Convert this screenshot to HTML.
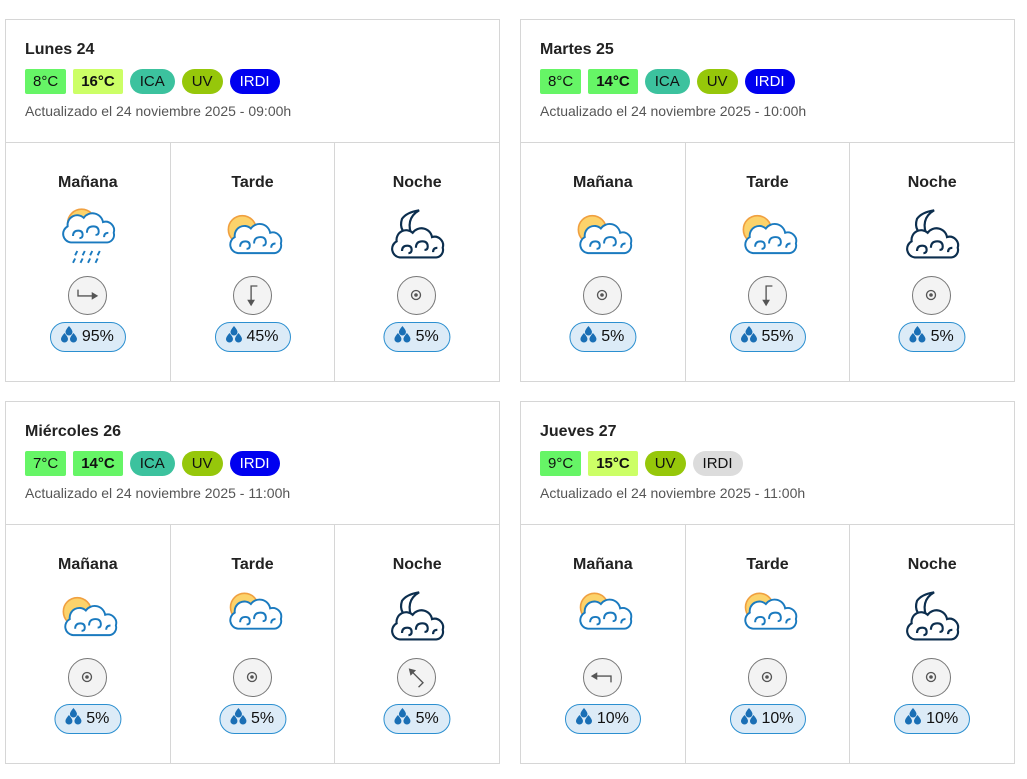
<!DOCTYPE html>
<html><head><meta charset="utf-8"><style>
*{box-sizing:border-box;margin:0;padding:0}
body{width:1027px;height:779px;background:#fff;font-family:"Liberation Sans","DejaVu Sans",sans-serif;color:#222;position:relative;overflow:hidden}
.card{position:absolute;width:495px;height:363px;border:1px solid #d6d6d6;background:#fff}
.head{height:123px;border-bottom:1px solid #d6d6d6;padding:20px 0 0 19px}
.title{font-size:16px;font-weight:bold;height:20px;line-height:20px;color:#222}
.badges{margin-top:9px;height:25px;display:flex;gap:7px}
.b{height:25px;line-height:25px;font-size:15px;padding:0 8px;color:#111}
.t{border-radius:2px}
.p{border-radius:13px;padding:0 10px}
.upd{margin-top:9px;font-size:14px;color:#555}
.cols{display:flex;height:238px}
.col{flex:1;border-right:1px solid #d6d6d6;position:relative;text-align:center}
.col:last-child{border-right:none}
.name{position:absolute;top:31px;left:0;right:0;font-size:16px;font-weight:bold}
.ic{position:absolute;top:63px;left:50%;margin-left:-30px;width:60px;height:60px}
.w{position:absolute;top:133px;left:50%;margin-left:-20px;width:39px;height:39px;border:1.5px solid #777;border-radius:50%;background:#f3f3f3}
.w svg{position:absolute;left:0;top:0}
.pr{position:absolute;top:179px;left:50%;transform:translateX(-50%);height:30px;line-height:28px;border:1.5px solid #2b8fd0;background:#dcebf7;border-radius:15px;padding:0 11px 0 10px;font-size:16px;white-space:nowrap;color:#111}
.pr svg{vertical-align:-2px;margin-right:5px}
</style></head><body>
<svg width="0" height="0" style="position:absolute">
<defs>
<g id="cloud" fill="#fff" stroke="#1a7abf" stroke-width="1.8">
<path d="M10 36 A8 8 0 0 1 7 21 A9 9 0 0 1 22 13 A10 10 0 0 1 40 17 A8 8 0 0 1 50 27 A7 7 0 0 1 44 36 Z"/>
<path d="M12 30 q0 -5 5 -5 q4 0 4 4 q0 3 -3 3" fill="none"/><path d="M25 27 q0 -6 6 -6 q5 0 5 5 q0 3 -3 3" fill="none"/><path d="M41 31 q0 -4 4 -4" fill="none"/>
</g>
<g id="sun"><circle cx="18" cy="16" r="13" fill="#fcd36b" stroke="#f0a040" stroke-width="1.5"/></g>
<g id="moon"><path d="M24 2 q-14 8 -6 26 q-14 -6 -10 -18 q4 -6 16 -8z" fill="#fff" stroke="#0c2e4e" stroke-width="2"/></g>
<g id="ncloud" fill="#fff" stroke="#0c2e4e" stroke-width="2">
<path d="M10 50 A8 8 0 0 1 7 35 A9 9 0 0 1 22 27 A10 10 0 0 1 40 31 A8 8 0 0 1 50 41 A7 7 0 0 1 44 50 Z"/>
<path d="M12 44 q0 -5 5 -5 q4 0 4 4 q0 3 -3 3" fill="none"/><path d="M25 41 q0 -6 6 -6 q5 0 5 5 q0 3 -3 3" fill="none"/><path d="M41 45 q0 -4 4 -4" fill="none"/>
</g>
<g id="rain" stroke="#1a7abf" stroke-width="1.8"><path d="M14 42l-2 4M21 42l-2 4M28 42l-2 4M35 42l-2 4M12 49l-2 4M19 49l-2 4M26 49l-2 4M33 49l-2 4"/></g>
<g id="drops" fill="#1a6fb5"><path d="M8 0 q3.5 4 3.5 6 a3.5 3.5 0 0 1 -7 0 q0 -2 3.5 -6z"/><path d="M3.5 7 q3.5 4 3.5 6 a3.5 3.5 0 0 1 -7 0 q0 -2 3.5 -6z"/><path d="M12.5 7 q3.5 4 3.5 6 a3.5 3.5 0 0 1 -7 0 q0 -2 3.5 -6z"/></g>
<g id="dot"><circle cx="20" cy="20" r="5" fill="none" stroke="#555" stroke-width="1.5"/><circle cx="20" cy="20" r="2" fill="#555"/></g>
<g id="arr" stroke="#555" stroke-width="1.5" fill="none"><path d="M10 14v7h16"/><path d="M26 18l5 3l-5 3z" fill="#555"/></g>
</defs></svg>

<!-- Card 1 -->
<div class="card" style="left:5px;top:19px">
<div class="head"><div class="title">Lunes 24</div>
<div class="badges"><span class="b t" style="background:#66f566">8°C</span><span class="b t" style="background:#ccff66;font-weight:bold">16°C</span><span class="b p" style="background:#3cc29e">ICA</span><span class="b p" style="background:#96c70a">UV</span><span class="b p" style="background:#0000f0;color:#fff">IRDI</span></div>
<div class="upd">Actualizado el 24 noviembre 2025 - 09:00h</div></div>
<div class="cols">
<div class="col"><div class="name">Mañana</div><svg class="ic" viewBox="0 0 56 56"><use href="#sun" x="4" y="0"/><use href="#cloud" x="2" y="-2"/><use href="#rain" x="4" y="0"/></svg><div class="w"><svg width="36" height="36" viewBox="0 0 40 40"><use href="#arr"/></svg></div><div class="pr"><svg width="16" height="17" viewBox="0 0 16 17"><use href="#drops"/></svg>95%</div></div>
<div class="col"><div class="name">Tarde</div><svg class="ic" viewBox="0 0 56 56"><use href="#sun" x="0" y="6"/><use href="#cloud" x="4" y="8"/></svg><div class="w"><svg width="36" height="36" viewBox="0 0 40 40"><g transform="rotate(90 20 20)"><use href="#arr"/></g></svg></div><div class="pr"><svg width="16" height="17" viewBox="0 0 16 17"><use href="#drops"/></svg>45%</div></div>
<div class="col"><div class="name">Noche</div><svg class="ic" viewBox="0 0 56 56"><use href="#moon" x="6" y="2"/><use href="#ncloud" x="2" y="-2"/></svg><div class="w"><svg width="36" height="36" viewBox="0 0 40 40"><use href="#dot"/></svg></div><div class="pr"><svg width="16" height="17" viewBox="0 0 16 17"><use href="#drops"/></svg>5%</div></div>
</div></div>

<!-- Card 2 -->
<div class="card" style="left:520px;top:19px">
<div class="head"><div class="title">Martes 25</div>
<div class="badges"><span class="b t" style="background:#66f566">8°C</span><span class="b t" style="background:#66f566;font-weight:bold">14°C</span><span class="b p" style="background:#3cc29e">ICA</span><span class="b p" style="background:#96c70a">UV</span><span class="b p" style="background:#0000f0;color:#fff">IRDI</span></div>
<div class="upd">Actualizado el 24 noviembre 2025 - 10:00h</div></div>
<div class="cols">
<div class="col"><div class="name">Mañana</div><svg class="ic" viewBox="0 0 56 56"><use href="#sun" x="0" y="6"/><use href="#cloud" x="4" y="8"/></svg><div class="w"><svg width="36" height="36" viewBox="0 0 40 40"><use href="#dot"/></svg></div><div class="pr"><svg width="16" height="17" viewBox="0 0 16 17"><use href="#drops"/></svg>5%</div></div>
<div class="col"><div class="name">Tarde</div><svg class="ic" viewBox="0 0 56 56"><use href="#sun" x="0" y="6"/><use href="#cloud" x="4" y="8"/></svg><div class="w"><svg width="36" height="36" viewBox="0 0 40 40"><g transform="rotate(90 20 20)"><use href="#arr"/></g></svg></div><div class="pr"><svg width="16" height="17" viewBox="0 0 16 17"><use href="#drops"/></svg>55%</div></div>
<div class="col"><div class="name">Noche</div><svg class="ic" viewBox="0 0 56 56"><use href="#moon" x="6" y="2"/><use href="#ncloud" x="2" y="-2"/></svg><div class="w"><svg width="36" height="36" viewBox="0 0 40 40"><use href="#dot"/></svg></div><div class="pr"><svg width="16" height="17" viewBox="0 0 16 17"><use href="#drops"/></svg>5%</div></div>
</div></div>

<!-- Card 3 -->
<div class="card" style="left:5px;top:401px">
<div class="head"><div class="title">Miércoles 26</div>
<div class="badges"><span class="b t" style="background:#66f566">7°C</span><span class="b t" style="background:#66f566;font-weight:bold">14°C</span><span class="b p" style="background:#3cc29e">ICA</span><span class="b p" style="background:#96c70a">UV</span><span class="b p" style="background:#0000f0;color:#fff">IRDI</span></div>
<div class="upd">Actualizado el 24 noviembre 2025 - 11:00h</div></div>
<div class="cols">
<div class="col"><div class="name">Mañana</div><svg class="ic" viewBox="0 0 56 56"><use href="#sun" x="0" y="6"/><use href="#cloud" x="4" y="8"/></svg><div class="w"><svg width="36" height="36" viewBox="0 0 40 40"><use href="#dot"/></svg></div><div class="pr"><svg width="16" height="17" viewBox="0 0 16 17"><use href="#drops"/></svg>5%</div></div>
<div class="col"><div class="name">Tarde</div><svg class="ic" viewBox="0 0 56 56"><use href="#sun" x="2" y="2"/><use href="#cloud" x="4" y="2"/></svg><div class="w"><svg width="36" height="36" viewBox="0 0 40 40"><use href="#dot"/></svg></div><div class="pr"><svg width="16" height="17" viewBox="0 0 16 17"><use href="#drops"/></svg>5%</div></div>
<div class="col"><div class="name">Noche</div><svg class="ic" viewBox="0 0 56 56"><use href="#moon" x="6" y="2"/><use href="#ncloud" x="2" y="-2"/></svg><div class="w"><svg width="36" height="36" viewBox="0 0 40 40"><g transform="rotate(-135 20 20)"><use href="#arr"/></g></svg></div><div class="pr"><svg width="16" height="17" viewBox="0 0 16 17"><use href="#drops"/></svg>5%</div></div>
</div></div>

<!-- Card 4 -->
<div class="card" style="left:520px;top:401px">
<div class="head"><div class="title">Jueves 27</div>
<div class="badges"><span class="b t" style="background:#66f566">9°C</span><span class="b t" style="background:#ccff66;font-weight:bold">15°C</span><span class="b p" style="background:#96c70a">UV</span><span class="b p" style="background:#dcdcdc">IRDI</span></div>
<div class="upd">Actualizado el 24 noviembre 2025 - 11:00h</div></div>
<div class="cols">
<div class="col"><div class="name">Mañana</div><svg class="ic" viewBox="0 0 56 56"><use href="#sun" x="2" y="2"/><use href="#cloud" x="4" y="2"/></svg><div class="w"><svg width="36" height="36" viewBox="0 0 40 40"><g transform="rotate(180 20 20)"><use href="#arr"/></g></svg></div><div class="pr"><svg width="16" height="17" viewBox="0 0 16 17"><use href="#drops"/></svg>10%</div></div>
<div class="col"><div class="name">Tarde</div><svg class="ic" viewBox="0 0 56 56"><use href="#sun" x="2" y="2"/><use href="#cloud" x="4" y="2"/></svg><div class="w"><svg width="36" height="36" viewBox="0 0 40 40"><use href="#dot"/></svg></div><div class="pr"><svg width="16" height="17" viewBox="0 0 16 17"><use href="#drops"/></svg>10%</div></div>
<div class="col"><div class="name">Noche</div><svg class="ic" viewBox="0 0 56 56"><use href="#moon" x="6" y="2"/><use href="#ncloud" x="2" y="-2"/></svg><div class="w"><svg width="36" height="36" viewBox="0 0 40 40"><use href="#dot"/></svg></div><div class="pr"><svg width="16" height="17" viewBox="0 0 16 17"><use href="#drops"/></svg>10%</div></div>
</div></div>
</body></html>
